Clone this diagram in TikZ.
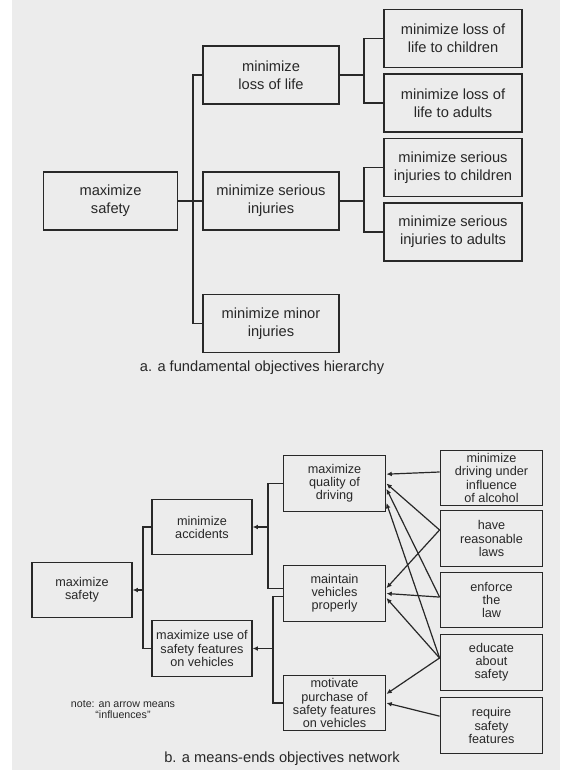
\documentclass[tikz,border=0pt]{standalone}
\usepackage{fontspec}
\setmainfont{Liberation Sans}
\usepackage{tikz}
\usetikzlibrary{arrows.meta}

\definecolor{scan}{RGB}{236,236,236}
\definecolor{ink}{RGB}{40,40,40}

\begin{document}
\begin{tikzpicture}[x=0.75pt, y=-0.75pt, line width=0.9pt, color=ink,
    boxa/.style={draw, inner sep=0pt, align=center, minimum width=102pt, minimum height=43.5pt, font=\fontsize{11}{13.75}\selectfont},
    boxb/.style={draw, inner sep=0pt, align=center, minimum width=77pt, minimum height=41.5pt, font=\fontsize{9.5}{9.8}\selectfont},
    arr/.style={-{Latex[length=4pt,width=3.6pt]}}]
            \useasboundingbox (0,0) rectangle (560,770);
            \fill[white] (0,0) rectangle (560,770);
            \fill[scan] (12,0) rectangle (560,770);

            \node[boxa, minimum width=101pt] (safeA) at (110.5,201) {maximize\\safety};
            \node[boxa] (lifeA) at (271,75) {minimize\\loss of life};
            \node[boxa] (seriousA) at (271,201) {minimize serious\\injuries};
            \node[boxa] (minorA) at (271,323.5) {minimize minor\\injuries};
            \node[boxa, minimum width=103.5pt] (lifeKids) at (453,38.5) {minimize loss of\\life to children};
            \node[boxa, minimum width=103.5pt] (lifeAdults) at (453,103) {minimize loss of\\life to adults};
            \node[boxa, minimum width=103.5pt] (injKids) at (453,167.5) {minimize serious\\injuries to children};
            \node[boxa, minimum width=103.5pt] (injAdults) at (453,232) {minimize serious\\injuries to adults};

            \coordinate (forkA) at (193,201);
            \coordinate (forkB) at (364,75);
            \coordinate (forkC) at (364,201);
            \draw (safeA) -- (seriousA);
            \draw (lifeA.west) -| (forkA) |- (minorA.west);
            \draw (lifeA) -- (forkB);
            \draw (lifeKids.west) -| (forkB) |- (lifeAdults.west);
            \draw (seriousA) -- (forkC);
            \draw (injKids.west) -| (forkC) |- (injAdults.west);

            \node[font=\fontsize{11}{13}\selectfont] (capA) at (262,368) {a. a fundamental objectives hierarchy};

            \node[boxb, minimum width=75pt] (safeB) at (82,590) {maximize\\safety};
            \node[boxb, minimum width=75pt] (accB) at (202,527) {minimize\\accidents};
            \node[boxb, minimum width=75pt] (useB) at (202,648.5) {maximize use of\\safety features\\on vehicles};
            \node[boxb] (qualB) at (334.5,483.5) {maximize\\quality of\\driving};
            \node[boxb] (maintB) at (334.5,593.5) {maintain\\vehicles\\properly};
            \node[boxb] (motB) at (334.5,703) {motivate\\purchase of\\safety features\\on vehicles};
            \node[boxb] (duiB) at (491.5,478) {minimize\\driving under\\influence\\of alcohol};
            \node[boxb] (lawsB) at (491.5,538.5) {have\\reasonable\\laws};
            \node[boxb] (enfB) at (491.5,600) {enforce\\the\\law};
            \node[boxb] (eduB) at (491.5,662.5) {educate\\about\\safety};
            \node[boxb] (reqB) at (491.5,725.5) {require\\safety\\features};

            \coordinate (forkD) at (143,590);
            \coordinate (forkE) at (268,527);
            \coordinate (forkF) at (273,648.5);
            \draw (accB.west) -| (forkD) |- (useB.west);
            \draw[arr] (forkD) -- (safeB);
            \draw (qualB.west) -| (forkE) |- ([yshift=4pt]maintB.west);
            \draw[arr] (forkE) -- (accB);
            \draw ([yshift=-2pt]maintB.west) -| (forkF) |- (motB.west);
            \draw[arr] (forkF) -- (useB);

            \draw[arr] ([yshift=4.5pt]duiB.west) -- ([yshift=7pt]qualB.east);
            \draw[arr] ([yshift=6.4pt]lawsB.west) -- (qualB.east);
            \draw[arr] ([yshift=6.4pt]lawsB.west) -- ([yshift=4pt]maintB.east);
            \draw[arr] ([yshift=2.2pt]enfB.west) -- ([yshift=-4pt]qualB.east);
            \draw[arr] ([yshift=2.2pt]enfB.west) -- (maintB.east);
            \draw[arr] ([yshift=3.4pt]eduB.west) -- ([yshift=-14.6pt]qualB.east);
            \draw[arr] ([yshift=3.4pt]eduB.west) -- ([yshift=-3.4pt]maintB.east);
            \draw[arr] ([yshift=3.4pt]eduB.west) -- ([yshift=6.8pt]motB.east);
            \draw[arr] ([yshift=7pt]reqB.west) -- (motB.east);

            \node[align=center, font=\fontsize{8}{8.3}\selectfont] (note) at (123,710) {note: an arrow means\\``influences''};
            \node[font=\fontsize{11}{13}\selectfont] (capB) at (282,759) {b. a means-ends objectives network};
        \end{tikzpicture}
\end{document}
